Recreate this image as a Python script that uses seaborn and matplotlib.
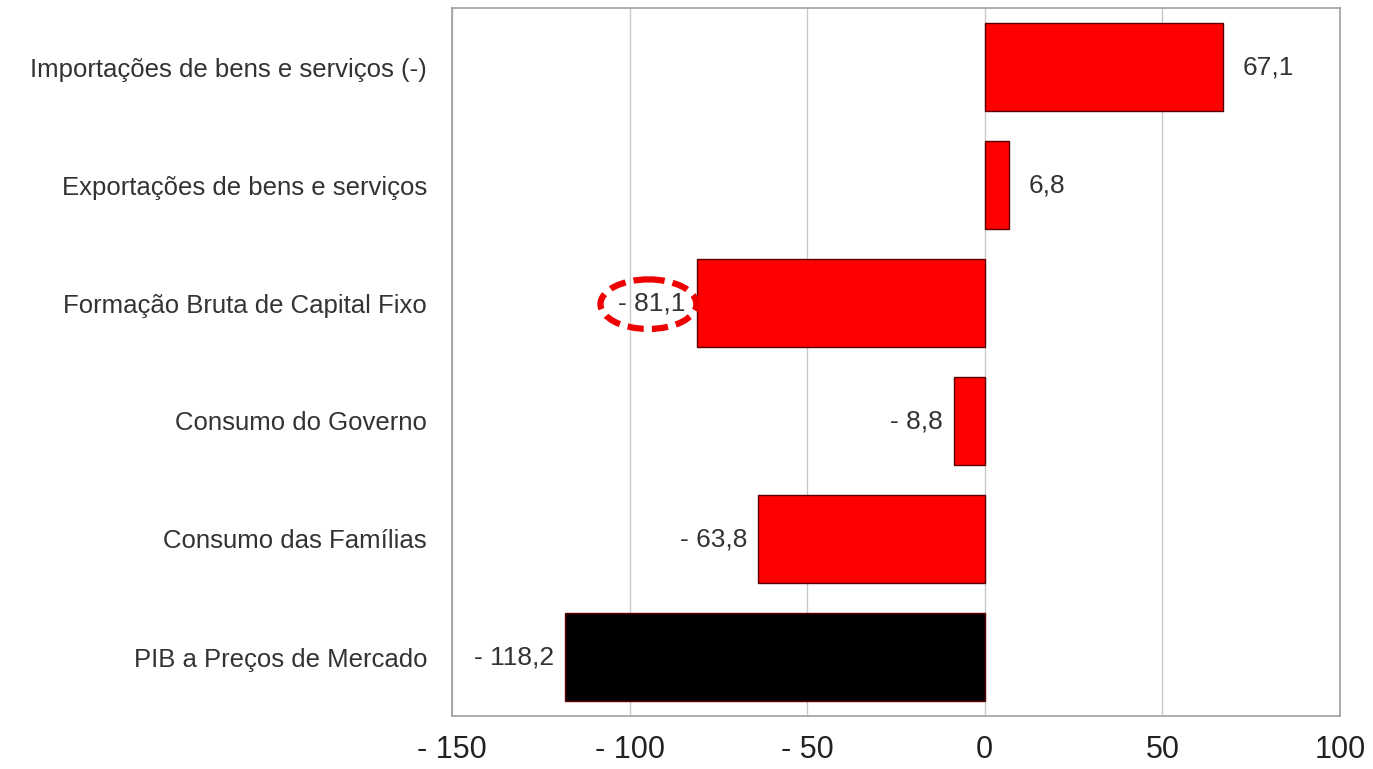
import matplotlib
matplotlib.use("Agg")
import matplotlib.pyplot as plt
from matplotlib.patches import Ellipse
import seaborn as sns
import pandas as pd

categories = [
    "Importações de bens e serviços (-)",
    "Exportações de bens e serviços",
    "Formação Bruta de Capital Fixo",
    "Consumo do Governo",
    "Consumo das Famílias",
    "PIB a Preços de Mercado",
]
values = [67.1, 6.8, -81.1, -8.8, -63.8, -118.2]
bar_colors = ["#ff0000", "#ff0000", "#ff0000", "#ff0000", "#ff0000", "#000000"]
x_ticks = [-150, -100, -50, 0, 50, 100]
x_tick_labels = ["- 150", "- 100", "- 50", "0", "50", "100"]
highlight = "Formação Bruta de Capital Fixo"

sns.set_theme(style="white")
plt.rcParams["font.family"] = ["Liberation Sans", "DejaVu Sans"]

df = pd.DataFrame({"cat": categories, "val": values})

fig = plt.figure(figsize=(13.73, 7.69), dpi=100)
ax = fig.add_axes([452 / 1373, 1 - 716 / 769, (1340 - 452) / 1373, (716 - 8) / 769])

sns.barplot(data=df, y="cat", x="val", hue="cat", palette=dict(zip(categories, bar_colors)),
            order=categories, orient="h", width=0.75, saturation=1,
            edgecolor="#5a0000", linewidth=1.0,
            legend=False, ax=ax, zorder=3)

ax.set_xlim(-150, 100)
ax.set_ylim(len(categories) - 0.5, -0.5)
ax.set_xticks(x_ticks)
ax.set_xticklabels(x_tick_labels, fontsize=22, color="#222222")
ax.tick_params(axis="x", length=0, pad=14)
ax.tick_params(axis="y", length=0, pad=18, labelsize=18.5, labelcolor="#333333")
ax.set_xlabel("")
ax.set_ylabel("")
ax.xaxis.grid(True, color="#c8c8c8", linewidth=1.0, zorder=0)
ax.yaxis.grid(False)
for s in ax.spines.values():
    s.set_color("#a0a0a0")
    s.set_linewidth(1.2)


def fmt(v):
    s = f"{abs(v):.1f}".replace(".", ",")
    return ("- " + s) if v < 0 else s


for i, v in enumerate(values):
    if v >= 0:
        ax.annotate(fmt(v), (v, i), xytext=(14, 0), textcoords="offset points",
                    ha="left", va="center", fontsize=19, color="#333333")
    else:
        ax.annotate(fmt(v), (v, i), xytext=(-8, 0), textcoords="offset points",
                    ha="right", va="center", fontsize=19, color="#333333")

hi = categories.index(highlight)
hv = values[hi]
ell = Ellipse((hv - 13.6, hi + 0.01), width=27, height=0.42, fill=False,
              edgecolor="#ee0000", linewidth=4.5, linestyle=(0, (2.6, 1.3)), zorder=5,
              clip_on=False)
ax.add_patch(ell)

fig.savefig("out.png", dpi=100)
